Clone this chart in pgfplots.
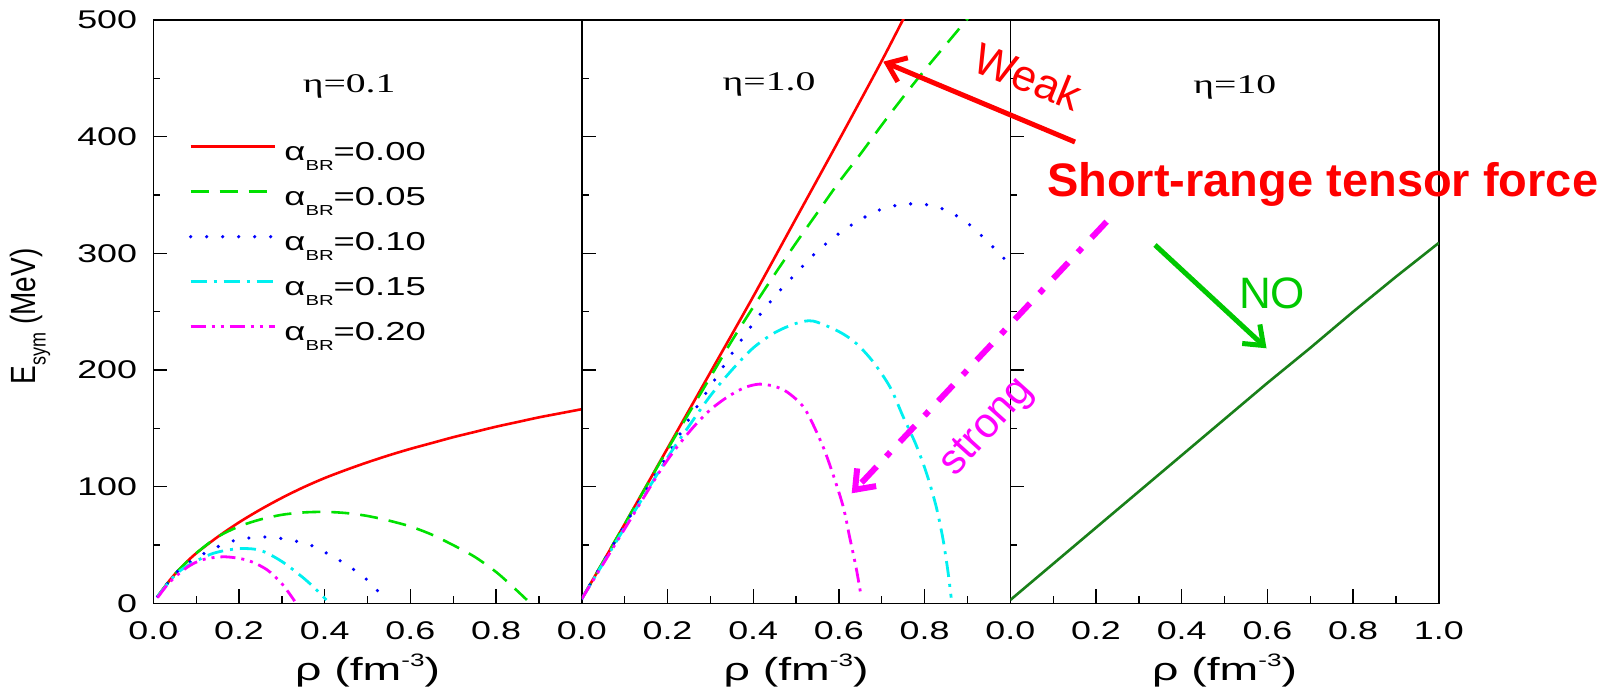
\documentclass[border=0pt]{standalone}
\usepackage{fontspec}
\setmainfont{Liberation Sans}
\newfontfamily\seriffont{Liberation Serif}
\usepackage{graphicx}
\usepackage{pgfplots}
\pgfplotsset{compat=1.18}
\usetikzlibrary{arrows.meta}
\newcommand\sx[1]{\scalebox{1.4}[1]{#1}}
\newcommand\fs[1]{\fontsize{#1}{#1}\selectfont}
\definecolor{cred}{RGB}{255,0,0}
\definecolor{cgreen}{RGB}{0,225,0}
\definecolor{cblue}{RGB}{0,0,255}
\definecolor{ccyan}{RGB}{0,240,240}
\definecolor{cmag}{RGB}{255,0,255}
\definecolor{dgreen}{RGB}{25,128,25}
\definecolor{ngreen}{RGB}{0,200,0}
\pgfplotsset{
  panel/.style={scale only axis, width=428.5pt, height=583.5pt,
    xmin=0, xmax=1, ymin=0, ymax=500, anchor=south west,
    axis line style={line width=1.5pt, black},
    tick style={line width=1.3pt, black},
    major tick length=14pt, minor tick length=7pt,
    tick pos=left, tick align=inside,
    xtick={0,0.2,0.4,0.6,0.8,1}, ytick={0,100,200,300,400,500},
    minor x tick num=1, minor y tick num=1,
    xticklabel style={anchor=base, yshift=-36.5pt, inner sep=0pt, font={\fs{25.6}}},
    yticklabel style={anchor=east, xshift=-16pt, inner sep=0pt, font={\fs{25.6}}},
    xlabel={\scalebox{1.45}[1]{ρ (fm\raisebox{14pt}{\fs{18}-3})}},
    xlabel style={at={(axis description cs:0.5,-0.132)}, anchor=base, inner sep=0pt, font={\fs{32}}},
    clip=true},
  cr/.style={cred, line width=2.6pt, solid},
  cg/.style={cgreen, line width=2.6pt, dash pattern=on 18pt off 11pt},
  cb/.style={cblue, line width=3.6pt, line cap=round, dash pattern=on 0pt off 16pt},
  cc/.style={ccyan, line width=2.8pt, dash pattern=on 16pt off 7pt on 3pt off 7pt},
  cm/.style={cmag, line width=2.8pt, dash pattern=on 15pt off 6pt on 3pt off 6pt on 3pt off 6pt},
}
\begin{document}
\begin{tikzpicture}[x=1pt,y=1pt]

% ---------- panel 1: eta = 0.1
\begin{axis}[panel, at={(153.3pt,91.5pt)},
  xticklabels={\sx{0.0},\sx{0.2},\sx{0.4},\sx{0.6},\sx{0.8},{}},
  yticklabels={\sx{0},\sx{100},\sx{200},\sx{300},\sx{400},\sx{500}},
  ylabel={\scalebox{1}[1.25]{E\raisebox{-8pt}{\fs{18}sym} (MeV)}},
  ylabel style={at={(axis description cs:-0.287,0.492)}, anchor=center, inner sep=0pt, font={\fs{28}}},
  legend style={draw=none, fill=none, at={(rel axis cs:0.0826,0.7943)}, anchor=north west,
    inner sep=0pt, row sep=13pt, column sep=8pt, font={\fs{26}},
    nodes={inner sep=0pt, text height=20pt, text depth=12pt}},
  legend cell align=left,
  legend image code/.code={\draw[#1] (0pt,9.5pt) -- (84pt,9.5pt);},
]
\addplot[cr, smooth] coordinates {(0.01,6)(0.03,16)(0.05,25)(0.075,34.5)(0.1,43)(0.15,57)(0.2,69.5)(0.25,80.5)(0.3,90.5)(0.35,99.5)(0.4,107.5)(0.45,114.5)(0.5,121)(0.55,127)(0.6,132.5)(0.65,137.5)(0.7,142.5)(0.75,147)(0.8,151.5)(0.85,155.5)(0.9,159.5)(0.95,163)(1.0,166.5)};
\addlegendentry{\sx{α\raisebox{-10pt}{\fs{14.5}BR}=0.00}}
\addplot[cg, smooth] coordinates {(0.01,6)(0.05,25)(0.1,43)(0.15,57)(0.2,66)(0.25,72)(0.3,76)(0.35,78)(0.4,78.5)(0.45,77.5)(0.5,75)(0.55,71)(0.6,66)(0.65,59)(0.7,50)(0.75,40)(0.8,27)(0.84,14)(0.872,3)};
\addlegendentry{\sx{α\raisebox{-10pt}{\fs{14.5}BR}=0.05}}
\addplot[cb, smooth] coordinates {(0.01,6)(0.05,25)(0.075,33)(0.1,39)(0.13,45)(0.175,52.5)(0.22,56)(0.266,57)(0.31,55)(0.36,51)(0.4,44)(0.45,33.5)(0.5,20)(0.535,6)};
\addlegendentry{\sx{α\raisebox{-10pt}{\fs{14.5}BR}=0.10}}
\addplot[cc, smooth] coordinates {(0.01,6)(0.05,24)(0.083,33)(0.14,43)(0.2,47)(0.25,45.5)(0.3,36)(0.35,22)(0.38,12)(0.404,3)};
\addlegendentry{\sx{α\raisebox{-10pt}{\fs{14.5}BR}=0.15}}
\addplot[cm, smooth] coordinates {(0.01,5)(0.04,19)(0.083,32)(0.12,38)(0.168,40)(0.22,37)(0.265,29)(0.3,17)(0.33,2)};
\addlegendentry{\sx{α\raisebox{-10pt}{\fs{14.5}BR}=0.20}}
\node[anchor=base, inner sep=0pt, font={\seriffont\fs{27}}] at (rel axis cs:0.457,0.8754) {\scalebox{1.47}[1]{η=0.1}};
\end{axis}

% ---------- panel 2: eta = 1.0
\begin{axis}[panel, at={(581.8pt,91.5pt)},
  xticklabels={\sx{0.0},\sx{0.2},\sx{0.4},\sx{0.6},\sx{0.8},{}},
  yticklabels={{},{},{},{},{},{}},
]
\addplot[cr, smooth] coordinates {(0,4)(0.1,68)(0.2,133)(0.3,198)(0.4,263)(0.5,330)(0.6,397)(0.7,465)(0.77,515)};
\addplot[cg, smooth] coordinates {(0,4)(0.1,68)(0.2,132)(0.3,194)(0.35,225)(0.4,254)(0.45,282)(0.5,309)(0.55,335)(0.6,361)(0.65,385)(0.7,410)(0.75,434)(0.8,457)(0.85,479)(0.9,501)(0.92,510)};
\addplot[cb, smooth] coordinates {(0,4)(0.1,67)(0.2,127)(0.25,158)(0.3,186)(0.35,214)(0.4,240)(0.45,263)(0.5,283)(0.55,302)(0.6,317)(0.65,329)(0.7,338)(0.75,342)(0.8,342)(0.85,337)(0.9,326)(0.95,309)(1.0,290)};
\addplot[cc, smooth] coordinates {(0,4)(0.1,65)(0.2,125)(0.25,152)(0.3,178)(0.35,200)(0.4,219)(0.45,232)(0.5,240)(0.54,242)(0.6,233)(0.64,223)(0.68,207)(0.72,185)(0.75,160)(0.78,136)(0.805,111)(0.827,83)(0.843,55)(0.855,26)(0.862,5)};
\addplot[cm, smooth] coordinates {(0,4)(0.1,64)(0.18,112)(0.22,133)(0.26,151)(0.3,166)(0.34,177)(0.38,185)(0.415,188)(0.45,186)(0.48,181)(0.52,167)(0.56,137)(0.585,112)(0.61,83)(0.625,57)(0.64,31)(0.652,6)};
\node[anchor=base, inner sep=0pt, font={\seriffont\fs{27}}] at (rel axis cs:0.437,0.88) {\scalebox{1.47}[1]{η=1.0}};
\end{axis}

% ---------- panel 3: eta = 10
\begin{axis}[panel, at={(1010.3pt,91.5pt)},
  xticklabels={\sx{0.0},\sx{0.2},\sx{0.4},\sx{0.6},\sx{0.8},\sx{1.0}},
  yticklabels={{},{},{},{},{},{}},
]
\addplot[dgreen, line width=2.6pt] coordinates {(0,3)(0.1,34)(0.2,65)(0.3,96)(0.4,127)(0.5,158)(0.6,189)(0.7,219)(0.8,250)(0.9,280)(1.0,309)};
\node[anchor=base, inner sep=0pt, font={\seriffont\fs{27}}] at (rel axis cs:0.524,0.8744) {\scalebox{1.47}[1]{η=10}};
\end{axis}

% ---------- annotations
\draw[cred, line width=5pt, -{Straight Barb[length=17pt,width=26pt]}] (1075,553) -- (883.3,633.3);
\node[cred, rotate=-22, font={\fs{44}}] at (1028.5,618.5) {Weak};
\node[cred, anchor=base west, inner sep=0pt, font={\fs{47}\bfseries}] at (1047,498.3) {Short-range tensor force};
\draw[cmag, line width=6pt, dash pattern=on 22pt off 14pt on 6pt off 14pt] (1106.6,473.3) -- (858,208.5);
\draw[cmag, line width=6pt, -{Straight Barb[length=17pt,width=26pt]}] (854.4,204.6) -- (851.7,201.7);
\node[cmag, rotate=48, font={\fs{42}}] at (988,267) {strong};
\draw[ngreen, line width=5pt, -{Straight Barb[length=17pt,width=26pt]}] (1155,450) -- (1266.5,346.7);
\node[ngreen, anchor=base west, inner sep=0pt, font={\fs{44}}] at (1238.8,386.7) {NO};

\pgfresetboundingbox
\path[use as bounding box] (0,0) rectangle (1619,695);
\end{tikzpicture}
\end{document}
